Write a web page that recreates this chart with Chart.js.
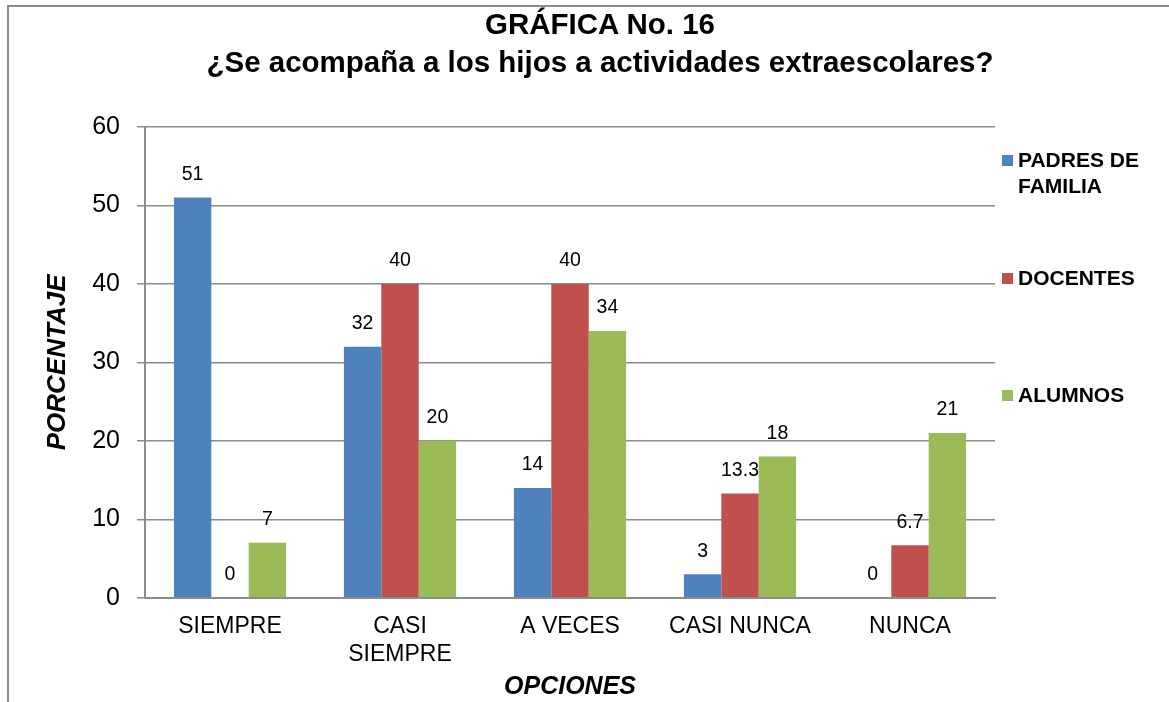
<!DOCTYPE html>
<html lang="es">
<head>
  <meta charset="UTF-8">
  <title>Gráfica No. 16</title>
  <script src="https://cdn.jsdelivr.net/npm/chart.js"></script>
  <style>
    html, body {
      margin: 0;
      padding: 0;
      background: white;
      font-family: "Liberation Sans", Arial, sans-serif;
    }
    .wrap {
      position: relative;
      width: 1169px;
      height: 702px;
      overflow: hidden;
    }
    .frame {
      position: absolute;
      left: 7px;
      top: 5px;
      width: 1200px;
      height: 800px;
      border-left: 2px solid #8c8c8c;
      border-top: 2px solid #8c8c8c;
      pointer-events: none;
    }
    .title {
      position: absolute;
      left: 0;
      top: 5px;
      width: 1200px;
      text-align: center;
      font-weight: bold;
      font-size: 29.5px;
      line-height: 38px;
      color: #000;
    }
    .legend {
      position: absolute;
      left: 1002px;
      font-weight: bold;
      font-size: 21px;
      line-height: 26px;
      color: #000;
    }
    .legend span.box {
      position: absolute;
      left: 0;
      top: 8px;
      width: 11px;
      height: 11px;
    }
    .legend div.txt {
      margin-left: 16px;
    }
    #chartBox {
      position: absolute;
      left: 0;
      top: 0;
      width: 1169px;
      height: 702px;
    }
  </style>
</head>
<body>
  <div class="wrap">
    <div id="chartBox"><canvas id="grafica"></canvas></div>
    <div class="frame"></div>
    <div class="title">GRÁFICA No. 16<br>¿Se acompaña a los hijos a actividades extraescolares?</div>
    <div class="legend" style="top:147px;"><span class="box" style="background:#4F81BD"></span><div class="txt">PADRES DE<br>FAMILIA</div></div>
    <div class="legend" style="top:265px;"><span class="box" style="background:#C0504D"></span><div class="txt">DOCENTES</div></div>
    <div class="legend" style="top:382px;"><span class="box" style="background:#9BBB59"></span><div class="txt">ALUMNOS</div></div>
  </div>

  <script>
    // datos
    const opciones = ['SIEMPRE', ['CASI', 'SIEMPRE'], 'A VECES', 'CASI NUNCA', 'NUNCA'];
    const padres = [51, 32, 14, 3, 0];
    const docentes = [0, 40, 40, 13.3, 6.7];
    const alumnos = [7, 20, 34, 18, 21];

    const fuente = '"Liberation Sans", Arial, sans-serif';
    const gris = '#8c8c8c';

    // etiquetas de valor encima de cada barra
    const etiquetas = {
      id: 'etiquetas',
      afterDatasetsDraw(chart) {
        const ctx = chart.ctx;
        ctx.save();
        ctx.font = '19.5px ' + fuente;
        ctx.fillStyle = '#000';
        ctx.textAlign = 'center';
        ctx.textBaseline = 'middle';
        chart.data.datasets.forEach((ds, i) => {
          chart.getDatasetMeta(i).data.forEach((bar, j) => {
            ctx.fillText(String(ds.data[j]), bar.x, bar.y - 23);
          });
        });
        ctx.restore();
      }
    };

    new Chart(document.getElementById('grafica'), {
      type: 'bar',
      data: {
        labels: opciones,
        datasets: [
          { label: 'PADRES DE FAMILIA', data: padres, backgroundColor: '#4F81BD' },
          { label: 'DOCENTES', data: docentes, backgroundColor: '#C0504D' },
          { label: 'ALUMNOS', data: alumnos, backgroundColor: '#9BBB59' }
        ]
      },
      options: {
        responsive: true,
        maintainAspectRatio: false,
        animation: false,
        datasets: { bar: { categoryPercentage: 0.66, barPercentage: 1 } },
        layout: { padding: { top: 127, left: 42, right: 174, bottom: 0 } },
        plugins: {
          legend: { display: false },
          title: { display: false },
          tooltip: { enabled: false }
        },
        scales: {
          x: {
            grid: { display: false, drawTicks: false },
            border: { display: true, color: gris, width: 2 },
            ticks: {
              color: '#000',
              font: { family: fuente, size: 23 },
              padding: 15,
              maxRotation: 0
            },
            title: {
              display: true,
              text: 'OPCIONES',
              color: '#000',
              font: { family: fuente, size: 25, weight: 'bold', style: 'italic' },
              padding: { top: -11, bottom: 0 }
            }
          },
          y: {
            min: 0,
            max: 60,
            grid: { color: gris, lineWidth: 1.5, tickLength: 8 },
            border: { display: true, color: gris, width: 2 },
            ticks: {
              stepSize: 10,
              color: '#000',
              font: { family: fuente, size: 25 },
              padding: 17
            },
            title: {
              display: true,
              text: 'PORCENTAJE',
              color: '#000',
              font: { family: fuente, size: 26, weight: 'bold', style: 'italic' },
              padding: { top: 0, bottom: 2 }
            }
          }
        }
      },
      plugins: [etiquetas]
    });
  </script>
</body>
</html>
